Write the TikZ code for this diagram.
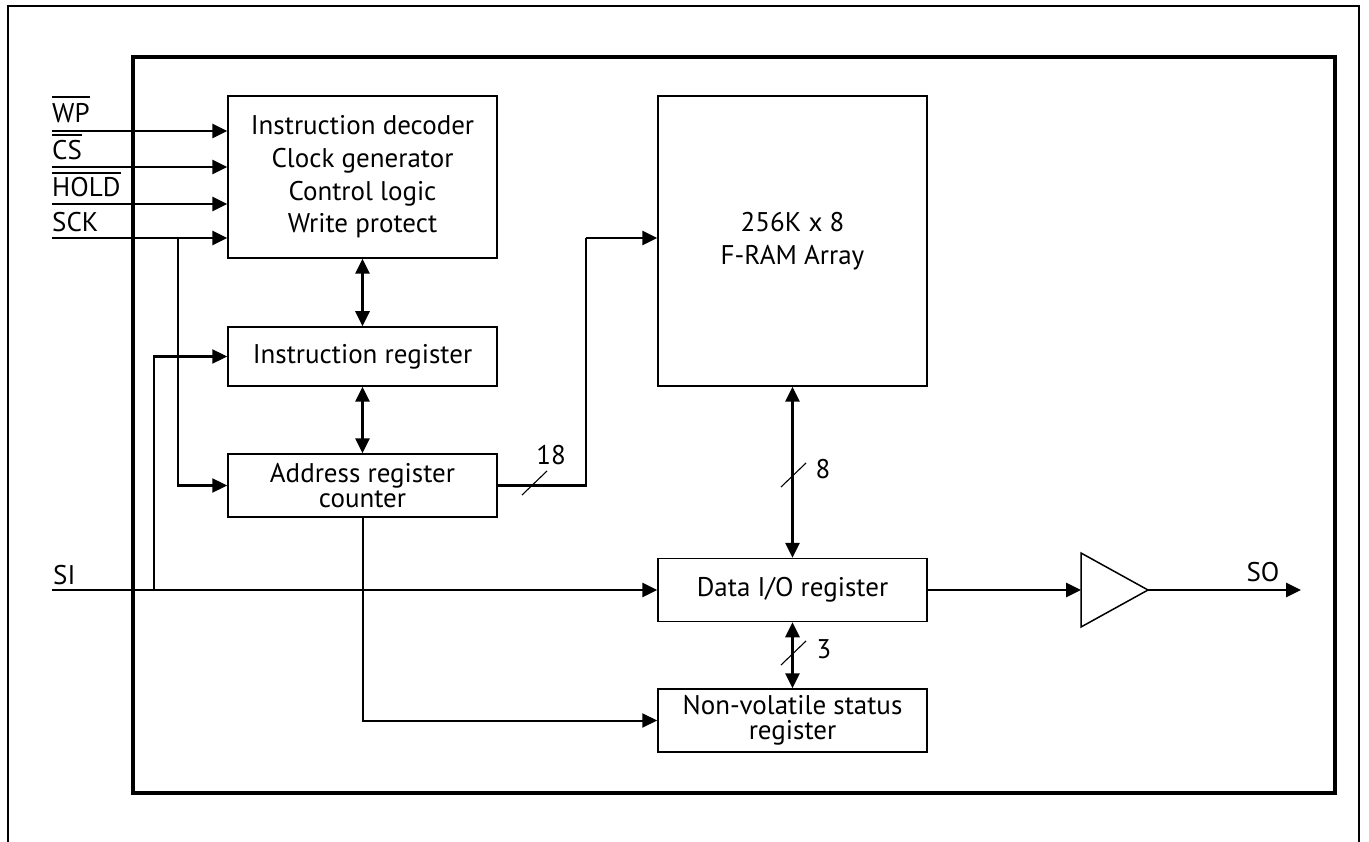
\documentclass[tikz,border=0pt]{standalone}
\usepackage{fontspec}
\setmainfont{PT Sans}
\usetikzlibrary{arrows.meta}
\begin{document}
\begin{tikzpicture}[x=1pt,y=-1pt,
  txt/.style={font=\fontsize{27}{32.7}\selectfont},
  tight/.style={font=\fontsize{27}{25}\selectfont},
  box/.style={draw, line width=1.5pt, minimum width=269pt, inner sep=0pt, align=center, txt},
  lbl/.style={inner sep=0pt, txt},
  tipA/.style={-{Triangle[length=15pt,width=14pt]}},
  sig/.style={line width=2.7pt, tipA},
  thinsig/.style={line width=2pt, tipA},
  dbl/.style={line width=2.7pt, {Triangle[length=15pt,width=14pt]}-{Triangle[length=15pt,width=14pt]}},
  slash/.style={line width=1.1pt},
  ovl/.style={line width=1.8pt}]
\useasboundingbox (0,0) rectangle (1369,842);
% frames
\draw[line width=2.6pt] (8,842) -- (8,6) -- (1359,6) -- (1359,842);
\draw[line width=4.3pt] (133,57) rectangle (1335,793);
% blocks
\node[box, minimum height=162pt] (ctrl) at (362.5,177) {Instruction decoder\\Clock generator\\Control logic\\Write protect};
\node[box, minimum height=59pt] (ir) at (362.5,356.5) {Instruction register};
\node[box, minimum height=63pt, tight] (ar) at (362.5,485.5) {Address register\\counter};
\node[box, minimum height=290pt] (fram) at (792.5,241) {256K x 8\\F-RAM Array};
\node[box, minimum height=63pt] (dio) at (792.5,590) {Data I/O register};
\node[box, minimum height=63pt, tight] (nv) at (792.5,720.5) {Non-volatile status\\register};
% buffer
\coordinate (bufin) at (1081,590);
\coordinate (bufout) at (1148,590);
\draw[line width=1.5pt] (1081,553) -- (bufout) -- (1081,627) -- cycle;
% input labels
\node[lbl, anchor=base west] (wp) at (52,123) {WP};
\node[lbl, anchor=base west] (cs) at (52,160) {CS};
\node[lbl, anchor=base west] (hold) at (52,197) {HOLD};
\node[lbl, anchor=base west] (sck) at (52,232) {SCK};
\draw[ovl] (wp.west |- 0,97) -- (wp.east |- 0,97);
\draw[ovl] (cs.west |- 0,135) -- (cs.east |- 0,135);
\draw[ovl] (hold.west |- 0,173) -- (hold.east |- 0,173);
% inputs
\coordinate (wpin) at (52,131);
\coordinate (csin) at (52,167);
\coordinate (holdin) at (52,204);
\coordinate (sckin) at (52,238);
\coordinate (sckj) at (178,238);
\draw[sig] (wpin) -- (wpin -| ctrl.west);
\draw[sig] (csin) -- (csin -| ctrl.west);
\draw[sig] (holdin) -- (holdin -| ctrl.west);
\draw[sig] (sckin) -- (sckin -| ctrl.west);
\draw[sig, line width=2.4pt] (sckj) |- (ar.west);
% SI
\coordinate (siin) at (52,590);
\coordinate (sij) at (154,590);
\node[lbl, anchor=base west] (si) at (53,584) {SI};
\draw[sig] (siin) -- (dio.west);
\draw[sig, line width=2.4pt] (sij) |- (ir.west);
% internal
\draw[dbl] (ctrl.south) -- (ir.north);
\draw[dbl] (ir.south) -- (ar.north);
\coordinate (busturn) at (586,238);
\draw[line width=2.8pt] (ar.east) -| (busturn);
\draw[sig, line width=2.8pt] (busturn) -- (busturn -| fram.west);
\draw[slash] (522,495) -- (547,471);
\node[lbl] (n18) at (551,455) {18};
\draw[thinsig] (ar.south) |- (nv.west);
\draw[dbl] (fram.south) -- (dio.north);
\draw[slash] (781,487) -- (806,463);
\node[lbl] (n8) at (823,469) {8};
\draw[dbl] (dio.south) -- (nv.north);
\draw[slash] (781,665) -- (806,641);
\node[lbl] (n3) at (824,649) {3};
% output
\draw[sig] (dio.east) -- (bufin);
\coordinate (soout) at (1301,590);
\draw[sig] (bufout) -- (soout);
\node[lbl] (so) at (1263,572) {SO};
\end{tikzpicture}
\end{document}
